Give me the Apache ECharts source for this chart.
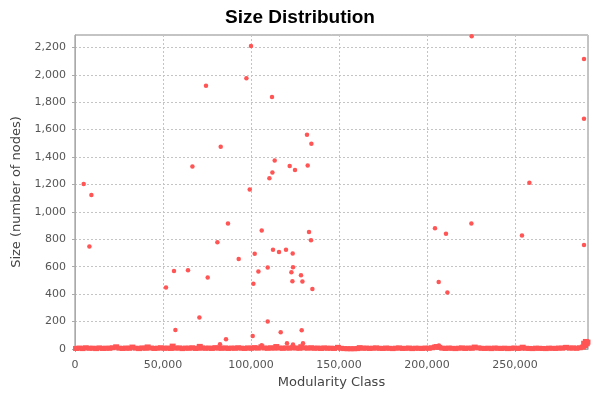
<!DOCTYPE html>
<html>
<head>
<meta charset="utf-8">
<script src="https://cdn.jsdelivr.net/npm/echarts@6/dist/echarts.min.js"></script>
<style>html,body{margin:0;padding:0;background:#fff}#c{width:600px;height:400px}</style>
</head>
<body>
<div id="c"></div>
<script>
// Chart text
var titleText = 'Size Distribution';
var xAxisName = 'Modularity Class';
var yAxisName = 'Size (number of nodes)';

// Large communities: [modularity class, size]
var largeClasses = [
  [4940,1204],[9320,1124],[8180,748],[51710,448],[56250,569],[57050,139],[64210,575],
  [66710,1331],[70680,229],[74430,1920],[75400,521],[80910,779],[82390,34],[82790,1475],
  [85800,71],[86930,915],[93010,657],[97390,1974],[99270,1164],[100000,2210],[100970,95],
  [101370,475],[102110,694],[104210,565],[106090,864],[106090,27],[109490,594],[109490,200],
  [110460,1246],[111940,1837],[112160,1288],[112500,723],[113470,1375],[115910,708],
  [116880,122],[119890,723],[120460,42],[122000,1334],[122960,560],[123530,494],[123700,696],
  [123870,596],[123870,32],[125000,1305],[128410,538],[128810,137],[129210,492],[129550,42],
  [131820,1562],[132220,1339],[132960,854],[134100,794],[134320,1497],[134890,438],
  [204550,881],[206660,489],[206800,25],[210800,840],[211600,412],[225230,915],[225400,2280],
  [253990,828],[258190,1212],[289220,2115],[289220,1679],[289220,759]
];

// Small communities forming the dense band along the bottom: [modularity class, size]
var smallClasses = [
  [600,4],[2500,7],[4300,3],[6100,9],[8200,5],[10100,6],[12000,3],[13800,8],[15900,4],[17600,6],
  [19500,5],[21300,9],[23400,16],[25200,6],[27100,4],[29000,7],[30800,5],[32600,14],[34500,6],
  [36400,3],[38200,8],[40100,5],[41300,15],[43200,7],[45100,4],[47000,6],[48800,9],[50700,5],
  [52500,7],[54400,4],[55500,21],[57300,6],[59200,8],[61000,3],[62900,7],[64700,5],[66600,9],
  [68500,4],[70400,6],[70900,19],[72200,8],[74100,5],[76000,7],[77800,4],[79700,10],[81500,6],
  [83400,5],[85300,8],[87100,4],[89000,7],[90900,5],[92700,9],[94600,6],[96400,4],[98300,8],
  [100200,5],[102000,10],[103900,6],[105900,16],[107700,7],[109600,5],[111400,9],[113200,6],
  [114400,18],[116300,7],[118100,5],[120000,8],[121900,6],[123700,10],[125600,7],[127500,5],
  [128600,17],[130400,8],[132300,6],[134200,9],[136000,5],[137900,7],[139800,4],[141600,8],
  [143500,5],[145400,6],[147200,4],[149400,12],[151200,5],[153000,3],[154900,2],[156700,2],
  [158600,2],[160400,3],[161800,10],[163700,5],[165500,7],[167400,4],[169300,6],[171100,8],
  [173000,5],[174900,4],[176700,7],[178600,5],[180500,3],[182300,6],[184200,8],[186100,4],
  [187900,5],[189800,7],[191600,3],[193500,6],[195400,5],[197200,4],[199100,7],[201000,5],
  [202800,9],[204500,14],[205500,18],[207000,12],[208700,6],[210600,4],[212400,7],[214300,5],
  [216200,3],[218000,6],[219900,8],[221700,4],[223600,7],[225500,5],[227100,14],[229200,8],
  [231000,5],[232900,4],[234800,6],[236600,3],[238500,7],[240400,5],[242200,4],[244100,6],
  [246000,3],[247800,5],[249700,7],[251600,4],[253400,6],[254400,13],[256300,5],[258100,4],
  [260000,3],[261900,6],[263700,5],[265600,4],[267500,3],[269300,6],[271200,5],[273100,4],
  [274900,7],[276800,6],[278700,10],[279200,12],[281200,6],[283000,8],[284900,5],[286800,9],
  [288600,14],[289300,42],[289800,25],[290300,55],[290800,38],[291200,50]
];

var xMax = 291500;
var yMax = 2290;
var xStep = 50000;
var yStep = 200;

var fmt = function (v) { return Math.round(v).toLocaleString('en-US'); };
var red = '#ff5555';
var font = 'DejaVu Sans';

var chart = echarts.init(document.getElementById('c'), null, { renderer: 'canvas' });
chart.setOption({
  animation: false,
  backgroundColor: '#ffffff',
  title: {
    text: titleText, left: 'center', top: 3,
    textStyle: { fontFamily: 'Liberation Sans', fontWeight: 'bold', fontSize: 19, color: '#000' }
  },
  grid: { left: 75, right: 12, top: 35, bottom: 51, show: true, borderColor: '#888', borderWidth: 1, backgroundColor: '#fff' },
  xAxis: {
    type: 'value', min: 0, max: xMax, interval: xStep, offset: 5,
    name: xAxisName, nameLocation: 'middle', nameGap: 22,
    nameTextStyle: { fontFamily: font, fontSize: 13, color: '#444' },
    axisLine: { show: true, lineStyle: { color: '#aaa' } },
    axisTick: { show: true, length: 3, lineStyle: { color: '#aaa' } },
    axisLabel: { formatter: fmt, fontFamily: font, fontSize: 11, color: '#555', margin: 6, showMaxLabel: false },
    splitLine: { show: true, lineStyle: { color: '#c4c4c4', type: [2, 2] } }
  },
  yAxis: {
    type: 'value', min: 0, max: yMax, interval: yStep, offset: 3,
    name: yAxisName, nameLocation: 'middle', nameGap: 43,
    nameTextStyle: { fontFamily: font, fontSize: 13, color: '#444' },
    axisLine: { show: true, lineStyle: { color: '#aaa' } },
    axisTick: { show: true, length: 3, lineStyle: { color: '#aaa' } },
    axisLabel: { formatter: fmt, fontFamily: font, fontSize: 11, color: '#555', margin: 6, showMaxLabel: false },
    splitLine: { show: true, lineStyle: { color: '#c4c4c4', type: [2, 2] } }
  },
  series: [
    { type: 'scatter', data: smallClasses, symbol: 'rect', symbolSize: [6, 5], clip: false,
      itemStyle: { color: red, opacity: 1 } },
    { type: 'scatter', data: largeClasses, symbol: 'circle', symbolSize: 4.5, clip: false,
      itemStyle: { color: red, opacity: 1 } }
  ]
});
</script>
</body>
</html>
